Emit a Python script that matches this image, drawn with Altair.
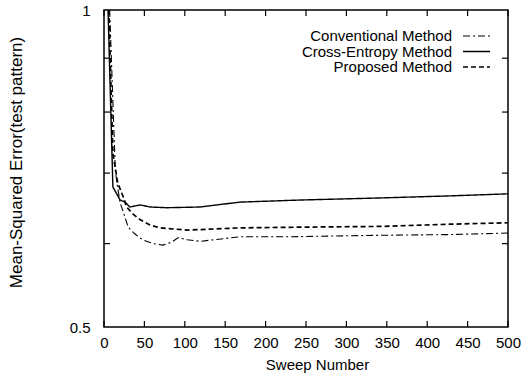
import altair as alt
import pandas as pd

# Series: sweep number vs. mean-squared error on the test pattern
methods = ["Conventional Method", "Cross-Entropy Method", "Proposed Method"]

conv_sweep = [7, 14, 16, 20, 30, 38, 48, 61, 73, 84, 92, 103, 119, 168, 230, 280, 342, 428, 500]
conv_mse = [1.0, 0.705, 0.685, 0.656, 0.622, 0.613, 0.605, 0.600, 0.598, 0.602, 0.608,
            0.605, 0.603, 0.609, 0.609, 0.610, 0.611, 0.612, 0.614]

ce_sweep = [5, 11, 20, 26, 32, 45, 57, 78, 119, 168, 243, 342, 428, 500]
ce_mse = [1.0, 0.679, 0.660, 0.657, 0.650, 0.653, 0.650, 0.649, 0.650, 0.657, 0.660,
          0.663, 0.666, 0.669]

prop_sweep = [6, 11, 17, 24, 28, 36, 45, 57, 69, 103, 168, 243, 342, 428, 500]
prop_mse = [1.0, 0.731, 0.685, 0.664, 0.650, 0.640, 0.632, 0.625, 0.621, 0.618, 0.621,
            0.622, 0.623, 0.626, 0.628]

x_ticks = [0, 50, 100, 150, 200, 250, 300, 350, 400, 450, 500]
y_labels = [0.5, 1.0]
y_minor = [0.6, 0.7, 0.8, 0.9]

dash_styles = [[7, 3, 2, 3], [1, 0], [5, 3]]
line_widths = [1.1, 1.7, 1.3]

FONT = "Liberation Sans"
W, H = 404, 317

rows = []
for name, xs, ys in [(methods[0], conv_sweep, conv_mse),
                     (methods[1], ce_sweep, ce_mse),
                     (methods[2], prop_sweep, prop_mse)]:
    for s, v in zip(xs, ys):
        rows.append({"method": name, "sweep": s, "mse": v})
df = pd.DataFrame(rows)

x_scale = alt.Scale(domain=[0, 500], nice=False)
y_scale = alt.Scale(type="log", domain=[0.5, 1.0], nice=False)

x_axis = alt.Axis(
    values=x_ticks, ticks=False, domain=False, grid=False, labelFlush=False,
    labelOverlap=False,
    labelFont=FONT, labelFontSize=15, labelColor="black", labelPadding=8,
    title="Sweep Number", titleFont=FONT, titleFontSize=15,
    titleFontWeight="normal", titleColor="black",
    titleX=213, titleY=30, titleBaseline="top")
y_axis = alt.Axis(
    values=y_labels, format="~g", ticks=False, domain=False, grid=False, labelFlush=False,
    labelBaseline="middle",
    labelFont=FONT, labelFontSize=15, labelColor="black", labelPadding=14,
    title="Mean-Squared Error(test pattern)", titleFont=FONT, titleFontSize=17,
    titleFontWeight="normal", titleColor="black",
    titleX=-79, titleY=152, titleAngle=-90)

lines = alt.Chart(df).mark_line(color="black", clip=True).encode(
    x=alt.X("sweep:Q", scale=x_scale, axis=x_axis),
    y=alt.Y("mse:Q", scale=y_scale, axis=y_axis),
    strokeDash=alt.StrokeDash("method:N", scale=alt.Scale(domain=methods, range=dash_styles),
                              legend=None),
    strokeWidth=alt.StrokeWidth("method:N", scale=alt.Scale(domain=methods, range=line_widths),
                                legend=None),
    detail="method:N",
)

# Inward-pointing tick marks on all four sides of the frame
xt = pd.DataFrame({"sweep": x_ticks})
yt = pd.DataFrame({"mse": y_minor})
tick_style = dict(color="black", strokeWidth=1.2)
x_bottom = alt.Chart(xt).mark_rule(**tick_style).encode(
    x=alt.X("sweep:Q", scale=x_scale, axis=x_axis), y=alt.value(H), y2=alt.value(H - 6))
x_top = alt.Chart(xt).mark_rule(**tick_style).encode(
    x=alt.X("sweep:Q", scale=x_scale, axis=x_axis), y=alt.value(0), y2=alt.value(6))
y_left = alt.Chart(yt).mark_rule(**tick_style).encode(
    y=alt.Y("mse:Q", scale=y_scale, axis=y_axis), x=alt.value(0), x2=alt.value(6))
y_right = alt.Chart(yt).mark_rule(**tick_style).encode(
    y=alt.Y("mse:Q", scale=y_scale, axis=y_axis), x=alt.value(W), x2=alt.value(W - 6))

# Legend: label text on the left, line sample on the right
legend_layers = []
for i, name in enumerate(methods):
    ypos = 26 + 15.5 * i
    label = alt.Chart(pd.DataFrame({"method": [name]})).mark_text(
        align="right", baseline="middle", font=FONT, fontSize=15, color="black"
    ).encode(text="method:N", x=alt.value(348), y=alt.value(ypos))
    sample = alt.Chart(pd.DataFrame({"method": [name]})).mark_rule(
        color="black", strokeWidth=line_widths[i], strokeDash=dash_styles[i]
    ).encode(x=alt.value(359), x2=alt.value(386), y=alt.value(ypos))
    legend_layers += [label, sample]

chart = alt.layer(lines, x_bottom, x_top, y_left, y_right, *legend_layers).properties(
    width=W, height=H,
    padding={"left": 104, "top": 10, "right": 17, "bottom": 46},
    autosize=alt.AutoSizeParams(type="none"),
    background="white",
).configure_view(stroke="black", strokeWidth=1.5)

chart.save("out.html", embed_options={"renderer": "svg", "actions": False})
